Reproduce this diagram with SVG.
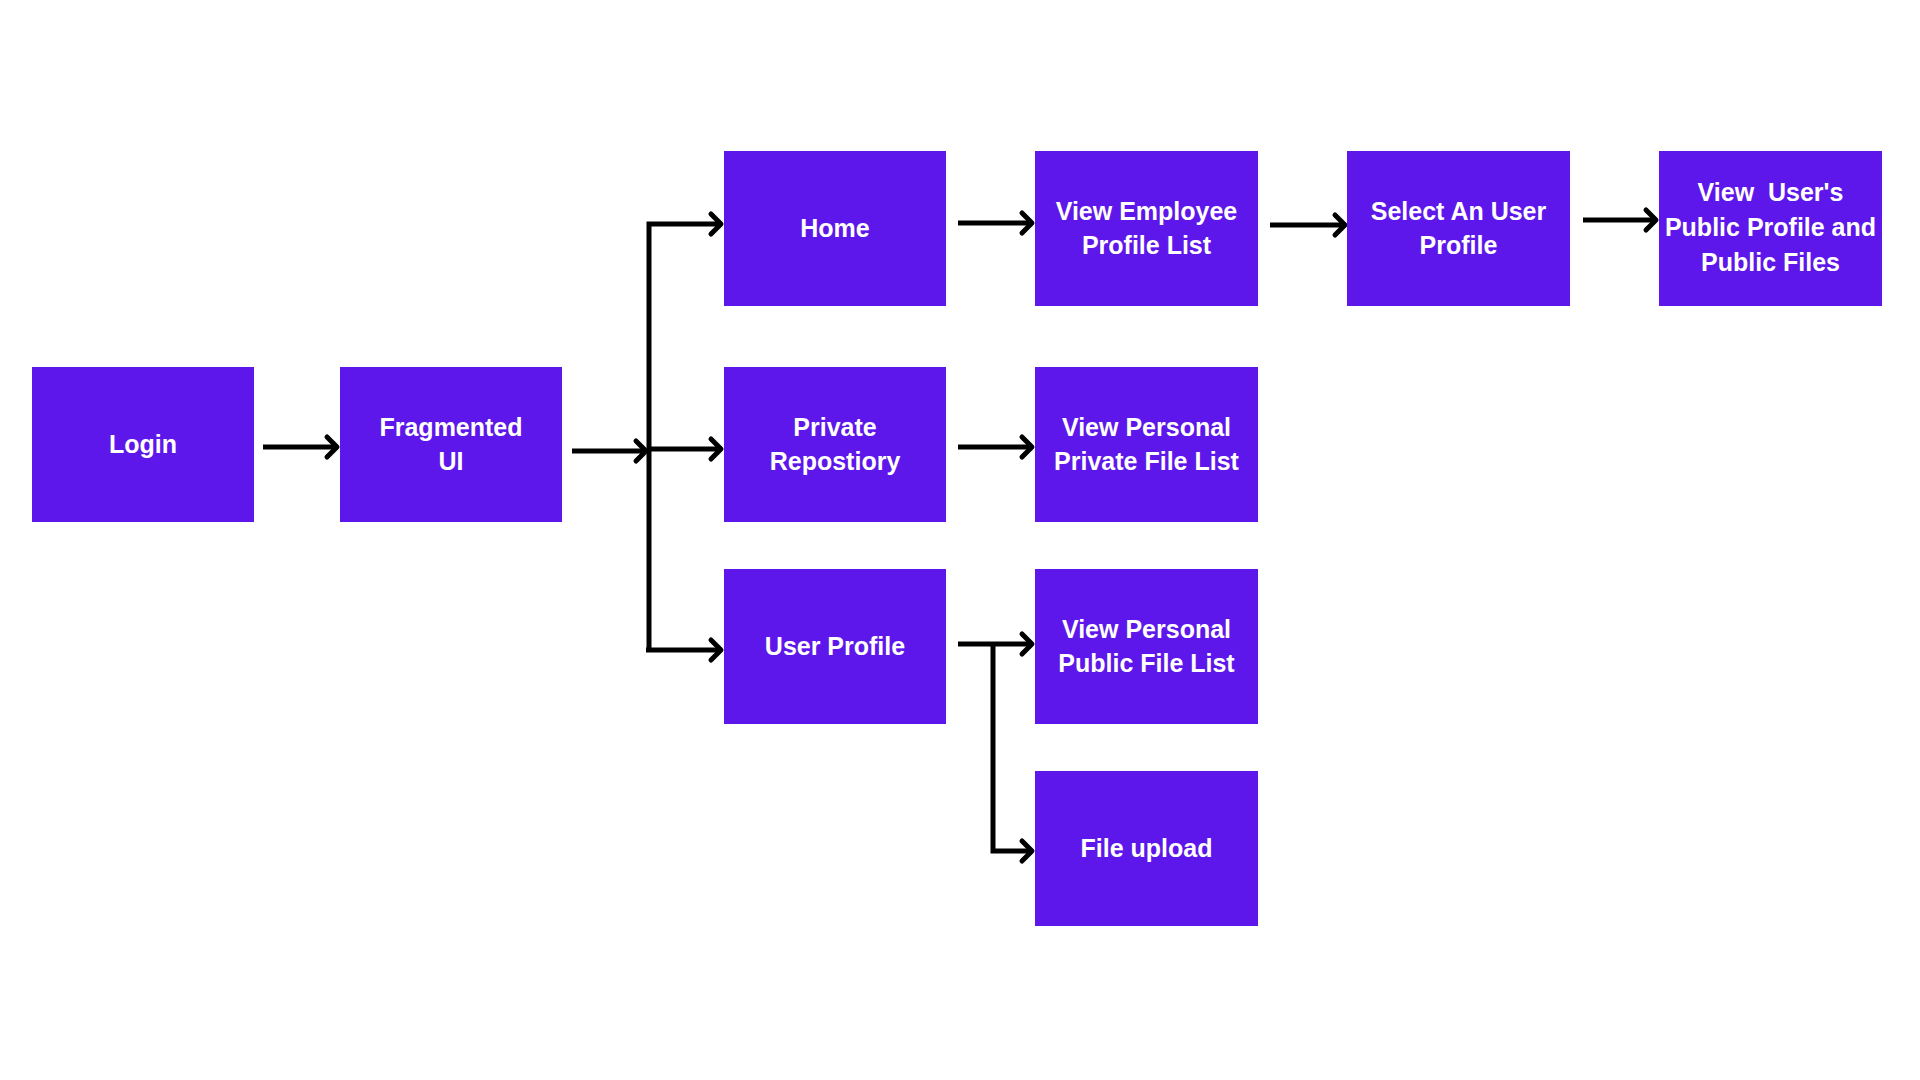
<svg xmlns="http://www.w3.org/2000/svg" width="1920" height="1080" viewBox="0 0 1920 1080">
<style>
.box{fill:#5e17eb;}
.lbl{font-family:"Liberation Sans",Arial,sans-serif;font-weight:bold;font-size:25px;fill:#ffffff;text-anchor:middle;white-space:pre;}
.con{fill:none;stroke:#000;stroke-width:5;stroke-linejoin:miter;}
</style>
<defs>
<marker id="arr" markerUnits="userSpaceOnUse" markerWidth="30" markerHeight="30" viewBox="-15 -15 30 30" refX="0" refY="0" orient="auto" overflow="visible">
<path d="M-10,-10 L0,0 L-10,10" fill="none" stroke="#000" stroke-width="5" stroke-linecap="round" stroke-linejoin="round"/>
</marker>
</defs>
<rect width="1920" height="1080" fill="#ffffff"/>
<g id="connectors">
<path class="con" d="M263,447 H337" marker-end="url(#arr)"/>
<path class="con" d="M572,451 H646" marker-end="url(#arr)"/>
<path class="con" d="M649,651 V224 H721" marker-end="url(#arr)"/>
<path class="con" d="M649,449 H721" marker-end="url(#arr)"/>
<path class="con" d="M646,650 H721" marker-end="url(#arr)"/>
<path class="con" d="M958,223 H1032" marker-end="url(#arr)"/>
<path class="con" d="M958,447 H1032" marker-end="url(#arr)"/>
<path class="con" d="M958,644 H1032" marker-end="url(#arr)"/>
<path class="con" d="M993,644 V851 H1032" marker-end="url(#arr)"/>
<path class="con" d="M1270,225 H1345" marker-end="url(#arr)"/>
<path class="con" d="M1583,220 H1656" marker-end="url(#arr)"/>
</g>
<g id="login"><rect class="box" x="32" y="367" width="222" height="155"/><text class="lbl" x="143" y="453">Login</text></g>
<g id="fragmented-ui"><rect class="box" x="340" y="367" width="222" height="155"/><text class="lbl" x="451" y="436">Fragmented</text><text class="lbl" x="451" y="470">UI</text></g>
<g id="home"><rect class="box" x="724" y="151" width="222" height="155"/><text class="lbl" x="835" y="237">Home</text></g>
<g id="private-repository"><rect class="box" x="724" y="367" width="222" height="155"/><text class="lbl" x="835" y="436">Private</text><text class="lbl" x="835" y="470">Repostiory</text></g>
<g id="user-profile"><rect class="box" x="724" y="569" width="222" height="155"/><text class="lbl" x="835" y="655">User Profile</text></g>
<g id="view-employee"><rect class="box" x="1035" y="151" width="223" height="155"/><text class="lbl" x="1146.5" y="220">View Employee</text><text class="lbl" x="1146.5" y="254">Profile List</text></g>
<g id="view-private"><rect class="box" x="1035" y="367" width="223" height="155"/><text class="lbl" x="1146.5" y="436">View Personal</text><text class="lbl" x="1146.5" y="470">Private File List</text></g>
<g id="view-public"><rect class="box" x="1035" y="569" width="223" height="155"/><text class="lbl" x="1146.5" y="638">View Personal</text><text class="lbl" x="1146.5" y="672">Public File List</text></g>
<g id="file-upload"><rect class="box" x="1035" y="771" width="223" height="155"/><text class="lbl" x="1146.5" y="857">File upload</text></g>
<g id="select-user"><rect class="box" x="1347" y="151" width="223" height="155"/><text class="lbl" x="1458.5" y="220">Select An User</text><text class="lbl" x="1458.5" y="254">Profile</text></g>
<g id="view-user-public"><rect class="box" x="1659" y="151" width="223" height="155"/><text class="lbl" x="1770.5" y="201">View  User's</text><text class="lbl" x="1770.5" y="236">Public Profile and</text><text class="lbl" x="1770.5" y="271">Public Files</text></g>
</svg>
